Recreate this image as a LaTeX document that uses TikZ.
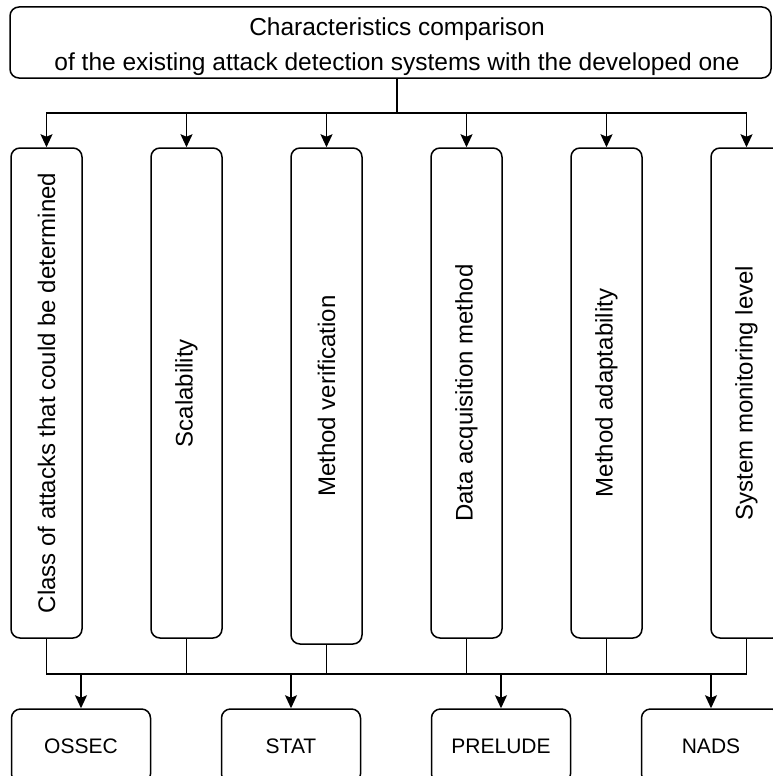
\documentclass[tikz,border=0pt]{standalone}
\usepackage{fontspec}
\setmainfont{Liberation Sans}
\usetikzlibrary{arrows.meta,positioning}

\tikzset{
    >={Stealth[length=13pt,width=12pt,inset=2.5pt]},
    box/.style={draw, line width=1.5pt, rounded corners=9pt, fill=white, inner sep=0pt},
    colbox/.style={box, minimum width=71pt, minimum height=490pt, font=\fontsize{24}{28}\selectfont},
    sysbox/.style={box, minimum width=139pt, minimum height=74pt, font=\fontsize{21}{25}\selectfont},
    link/.style={line width=1.5pt}
}

\begin{document}
\begin{tikzpicture}[x=1pt, y=-1pt, node distance=140pt, auto]
            \useasboundingbox (0,0) rectangle (772,776);
            % title
            \node(title) [box, minimum width=761pt, minimum height=71pt] at (390.5,42.5) {};
            \node(titletext) [align=center, font=\fontsize{24.5}{35}\selectfont] at (397,47) {Characteristics comparison\\of the existing attack detection systems with the developed one};
            % characteristics
            \node(c1) [colbox] at (46.5,393) {\rotatebox{90}{Class of attacks that could be determined}};
            \node(c2) [colbox, right of=c1] {\rotatebox{90}{Scalability}};
            \node(c3) [colbox, right of=c2, minimum height=496pt, yshift=-3pt] {\rotatebox{90}{Method verification}};
            \node(c4) [colbox, right of=c2, xshift=140pt] {\rotatebox{90}{Data acquisition method}};
            \node(c5) [colbox, right of=c4] {\rotatebox{90}{Method adaptability}};
            \node(c6) [colbox, right of=c5] {\rotatebox{90}{System monitoring level}};
            % systems
            \node(ossec) [sysbox] at (81,746) {OSSEC};
            \node(stat) [sysbox, right of=ossec, node distance=210pt] {STAT};
            \node(prelude) [sysbox, right of=stat, node distance=210pt] {PRELUDE};
            \node(nads) [sysbox, right of=prelude, node distance=210pt] {NADS};
            % buses
            \coordinate(tb) at (397,113);
            \coordinate(bb) at (397,674);
            \draw[link](titletext |- title.south) to (tb);
            \draw[link,->](c6 |- tb) -- (c1 |- tb) -- (c1);
            \draw[link,->](c1 |- tb) -- (c6 |- tb) -- (c6);
            \draw[link,->](c2 |- tb) to (c2);
            \draw[link,->](c3 |- tb) to (c3);
            \draw[link,->](c4 |- tb) to (c4);
            \draw[link,->](c5 |- tb) to (c5);
            \draw[link](c1) -- (c1 |- bb) -- (c6 |- bb) -- (c6);
            \draw[link](c2) to (c2 |- bb);
            \draw[link](c3) to (c3 |- bb);
            \draw[link](c4) to (c4 |- bb);
            \draw[link](c5) to (c5 |- bb);
            \draw[link,->](ossec |- bb) to (ossec);
            \draw[link,->](stat |- bb) to (stat);
            \draw[link,->](prelude |- bb) to (prelude);
            \draw[link,->](nads |- bb) to (nads);
            \end{tikzpicture}
\end{document}
